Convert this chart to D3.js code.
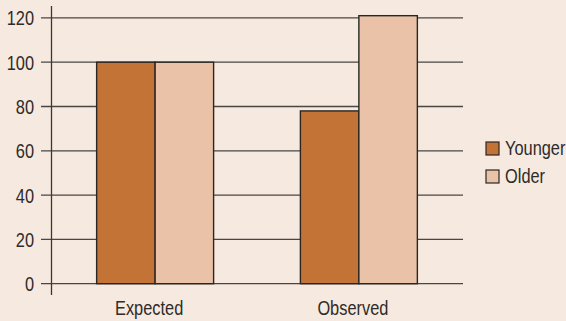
<!DOCTYPE html>
<html><head><meta charset="utf-8">
<script src="https://cdn.jsdelivr.net/npm/d3@7"></script>
<style>
html,body{margin:0;padding:0;background:#f6e9df;}
svg{display:block;}
text{font-family:"Liberation Sans",Arial,sans-serif;fill:#2e2b2a;}
</style></head>
<body>
<svg id="chart" width="566" height="321"></svg>
<script>
const categories = ["Expected", "Observed"];
const seriesNames = ["Younger", "Older"];
const younger = [100, 78];
const older = [100, 121];
const yTicks = [0, 20, 40, 60, 80, 100, 120];
const colors = ["#c47337", "#e9c2a7"];

const SX = 0.78; // horizontal condensing of text
const FS = 21;
const svg = d3.select("#chart");
svg.append("rect").attr("width", 566).attr("height", 321).attr("fill", "#f6e9df");

const x0 = d3.scaleBand().domain(categories).range([51, 463]).paddingInner(0.426).paddingOuter(0.224);
const x1 = d3.scaleBand().domain(seriesNames).range([0, x0.bandwidth()]).padding(0);
const y = d3.scaleLinear().domain([0, 120]).range([283.7, 17.9]);

// gridlines with ticks
svg.append("g").selectAll("line").data(yTicks).join("line")
  .attr("x1", 41).attr("x2", 463)
  .attr("y1", d => y(d)).attr("y2", d => y(d))
  .attr("stroke", "#4a4644").attr("stroke-width", 1.3);

// y axis line
svg.append("line").attr("x1", 51.5).attr("x2", 51.5).attr("y1", 6).attr("y2", 295)
  .attr("stroke", "#3a3634").attr("stroke-width", 1.3);

// tick labels
svg.append("g").selectAll("text").data(yTicks).join("text")
  .attr("transform", d => `translate(34,${y(d)}) scale(${SX},1)`)
  .attr("dy", "0.36em")
  .attr("text-anchor", "end").attr("font-size", FS).text(d => d);

// bars
const data = categories.map((c, i) => ({cat: c, vals: [younger[i], older[i]]}));
const groups = svg.append("g").selectAll("g").data(data).join("g")
  .attr("transform", d => `translate(${x0(d.cat)},0)`);
groups.selectAll("rect").data(d => d.vals.map((v, j) => ({s: seriesNames[j], v, j}))).join("rect")
  .attr("x", d => x1(d.s)).attr("width", x1.bandwidth())
  .attr("y", d => y(d.v)).attr("height", d => y(0) - y(d.v))
  .attr("fill", d => colors[d.j]).attr("stroke", "#2a2624").attr("stroke-width", 1.4);

// x labels
svg.append("g").selectAll("text").data(categories).join("text")
  .attr("transform", d => `translate(${x0(d) + x0.bandwidth() / 2 - 6},315) scale(${SX},1)`)
  .attr("text-anchor", "middle").attr("font-size", FS).text(d => d);

// legend
const leg = svg.append("g").selectAll("g").data(seriesNames).join("g")
  .attr("transform", (d, i) => `translate(486,${142 + i * 28})`);
leg.append("rect").attr("width", 13).attr("height", 13)
  .attr("fill", (d, i) => colors[i]).attr("stroke", "#2a2624").attr("stroke-width", 1.2);
leg.append("text").attr("transform", `translate(19,13) scale(${SX},1)`)
  .attr("font-size", FS).text(d => d);
</script>
</body></html>
